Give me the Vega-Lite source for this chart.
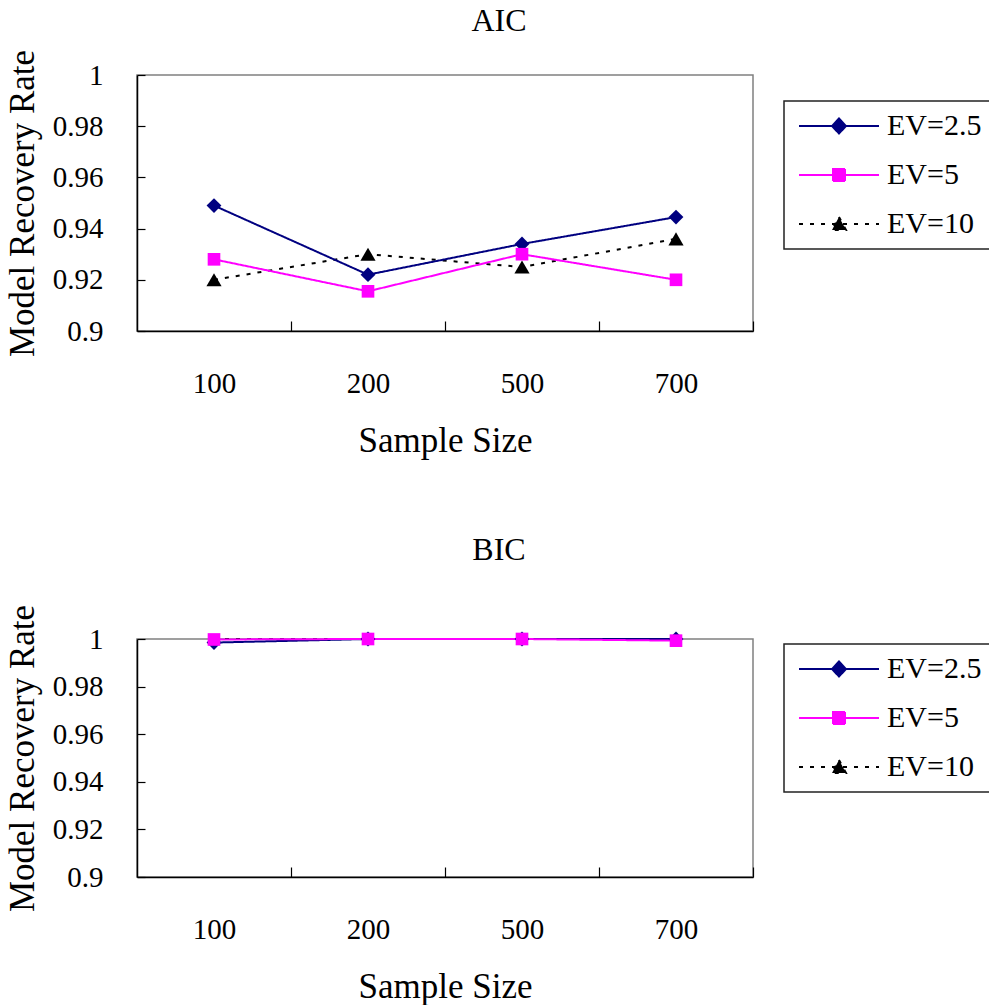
{
  "$schema": "https://vega.github.io/schema/vega-lite/v6.json",
  "background": "white",
  "padding": {"left": 4, "top": 4, "right": 0, "bottom": 0},
  "spacing": 74,
  "datasets": {
    "rates": [
      {"panel": "AIC", "n": "100", "ev": "EV=10", "rate": 0.920},
      {"panel": "AIC", "n": "200", "ev": "EV=10", "rate": 0.930},
      {"panel": "AIC", "n": "500", "ev": "EV=10", "rate": 0.925},
      {"panel": "AIC", "n": "700", "ev": "EV=10", "rate": 0.936},
      {"panel": "AIC", "n": "100", "ev": "EV=2.5", "rate": 0.949},
      {"panel": "AIC", "n": "200", "ev": "EV=2.5", "rate": 0.922},
      {"panel": "AIC", "n": "500", "ev": "EV=2.5", "rate": 0.934},
      {"panel": "AIC", "n": "700", "ev": "EV=2.5", "rate": 0.9445},
      {"panel": "AIC", "n": "100", "ev": "EV=5", "rate": 0.928},
      {"panel": "AIC", "n": "200", "ev": "EV=5", "rate": 0.9155},
      {"panel": "AIC", "n": "500", "ev": "EV=5", "rate": 0.930},
      {"panel": "AIC", "n": "700", "ev": "EV=5", "rate": 0.920},
      {"panel": "BIC", "n": "100", "ev": "EV=10", "rate": 1.0},
      {"panel": "BIC", "n": "200", "ev": "EV=10", "rate": 1.0},
      {"panel": "BIC", "n": "500", "ev": "EV=10", "rate": 1.0},
      {"panel": "BIC", "n": "700", "ev": "EV=10", "rate": 1.0},
      {"panel": "BIC", "n": "100", "ev": "EV=2.5", "rate": 0.9985},
      {"panel": "BIC", "n": "200", "ev": "EV=2.5", "rate": 1.0},
      {"panel": "BIC", "n": "500", "ev": "EV=2.5", "rate": 1.0},
      {"panel": "BIC", "n": "700", "ev": "EV=2.5", "rate": 1.0},
      {"panel": "BIC", "n": "100", "ev": "EV=5", "rate": 0.9998},
      {"panel": "BIC", "n": "200", "ev": "EV=5", "rate": 1.0},
      {"panel": "BIC", "n": "500", "ev": "EV=5", "rate": 1.0},
      {"panel": "BIC", "n": "700", "ev": "EV=5", "rate": 0.9993}
    ]
  },
  "vconcat": [
    {
      "title": {"text": "AIC", "offset": 11},
      "width": 616,
      "height": 256,
      "data": {"name": "rates"},
      "transform": [{"filter": "datum.panel === 'AIC'"}],
      "encoding": {
        "x": {"field": "n", "type": "ordinal", "title": "Sample Size", "sort": ["100", "200", "500", "700"],
              "scale": {"type": "point", "padding": 0.5}},
        "y": {"field": "rate", "type": "quantitative", "title": "Model Recovery Rate",
              "scale": {"domain": [0.9, 1], "nice": false, "zero": false}}
      },
      "layer": [
        {
          "mark": {"type": "line", "strokeWidth": 2},
          "encoding": {
            "color": {"field": "ev", "type": "nominal",
                      "scale": {"domain": ["EV=2.5", "EV=5", "EV=10"], "range": ["#000080", "#FF00FF", "#000000"]},
                      "legend": {
                        "legendX": 647, "legendY": 26,
                        "encode": {"symbols": {"update": {
                          "shape": {"signal": "datum.value === 'EV=2.5' ? 'M-1,0H7M3,-0.75L3.7,0L3,0.75L2.3,0Z' : datum.value === 'EV=5' ? 'M-1,0H7M2.4,-0.6H3.6V0.6H2.4Z' : 'M-1,0H7M3,-0.7L3.7,0.6L2.3,0.6Z'"},
                          "fill": {"signal": "datum.value === 'EV=2.5' ? '#000080' : datum.value === 'EV=5' ? '#FF00FF' : '#000000'"},
                          "strokeDash": {"signal": "datum.value === 'EV=10' ? [4, 6] : [1, 0]"},
                          "strokeWidth": {"signal": "datum.value === 'EV=10' ? 2.5 : 2"},
                          "size": {"value": 400},
                          "opacity": {"value": 1}
                        }}}
                      }},
            "strokeDash": {"field": "ev", "type": "nominal",
                           "scale": {"domain": ["EV=2.5", "EV=5", "EV=10"], "range": [[1, 0], [1, 0], [4, 7]]},
                           "legend": null},
            "strokeWidth": {"field": "ev", "type": "nominal",
                            "scale": {"domain": ["EV=2.5", "EV=5", "EV=10"], "range": [2, 2, 3]},
                            "legend": null}
          }
        },
        {
          "transform": [{"filter": "datum.ev === 'EV=10'"}],
          "mark": {"type": "point", "filled": true, "opacity": 1, "shape": "triangle-up", "size": 230, "color": "#000000"}
        },
        {
          "transform": [{"filter": "datum.ev === 'EV=2.5'"}],
          "mark": {"type": "point", "filled": true, "opacity": 1, "shape": "diamond", "size": 220, "color": "#000080"}
        },
        {
          "transform": [{"filter": "datum.ev === 'EV=5'"}],
          "mark": {"type": "point", "filled": true, "opacity": 1, "shape": "square", "size": 160, "color": "#FF00FF"}
        }
      ]
    },
    {
      "title": {"text": "BIC", "offset": 37},
      "width": 616,
      "height": 238,
      "data": {"name": "rates"},
      "transform": [{"filter": "datum.panel === 'BIC'"}],
      "encoding": {
        "x": {"field": "n", "type": "ordinal", "title": "Sample Size", "sort": ["100", "200", "500", "700"],
              "scale": {"type": "point", "padding": 0.5}},
        "y": {"field": "rate", "type": "quantitative", "title": "Model Recovery Rate",
              "scale": {"domain": [0.9, 1], "nice": false, "zero": false}}
      },
      "layer": [
        {
          "mark": {"type": "line", "strokeWidth": 2},
          "encoding": {
            "color": {"field": "ev", "type": "nominal",
                      "scale": {"domain": ["EV=2.5", "EV=5", "EV=10"], "range": ["#000080", "#FF00FF", "#000000"]},
                      "legend": {
                        "legendX": 647, "legendY": 5,
                        "encode": {"symbols": {"update": {
                          "shape": {"signal": "datum.value === 'EV=2.5' ? 'M-1,0H7M3,-0.75L3.7,0L3,0.75L2.3,0Z' : datum.value === 'EV=5' ? 'M-1,0H7M2.4,-0.6H3.6V0.6H2.4Z' : 'M-1,0H7M3,-0.7L3.7,0.6L2.3,0.6Z'"},
                          "fill": {"signal": "datum.value === 'EV=2.5' ? '#000080' : datum.value === 'EV=5' ? '#FF00FF' : '#000000'"},
                          "strokeDash": {"signal": "datum.value === 'EV=10' ? [4, 6] : [1, 0]"},
                          "strokeWidth": {"signal": "datum.value === 'EV=10' ? 2.5 : 2"},
                          "size": {"value": 400},
                          "opacity": {"value": 1}
                        }}}
                      }},
            "strokeDash": {"field": "ev", "type": "nominal",
                           "scale": {"domain": ["EV=2.5", "EV=5", "EV=10"], "range": [[1, 0], [1, 0], [4, 7]]},
                           "legend": null},
            "strokeWidth": {"field": "ev", "type": "nominal",
                            "scale": {"domain": ["EV=2.5", "EV=5", "EV=10"], "range": [2, 2, 3]},
                            "legend": null}
          }
        },
        {
          "transform": [{"filter": "datum.ev === 'EV=10'"}],
          "mark": {"type": "point", "filled": true, "opacity": 1, "shape": "triangle-up", "size": 150, "color": "#000000"}
        },
        {
          "transform": [{"filter": "datum.ev === 'EV=2.5'"}],
          "mark": {"type": "point", "filled": true, "opacity": 1, "shape": "diamond", "size": 220, "color": "#000080"}
        },
        {
          "transform": [{"filter": "datum.ev === 'EV=5'"}],
          "mark": {"type": "point", "filled": true, "opacity": 1, "shape": "square", "size": 160, "color": "#FF00FF"}
        }
      ]
    }
  ],
  "resolve": {"scale": {"color": "independent", "strokeDash": "independent", "strokeWidth": "independent"},
              "legend": {"color": "independent"}},
  "config": {
    "font": "Liberation Serif",
    "view": {"stroke": "#808080", "strokeWidth": 1.5},
    "title": {"font": "Liberation Serif", "fontSize": 32, "fontWeight": "normal", "color": "black", "anchor": "middle", "frame": "bounds"},
    "axis": {
      "grid": false,
      "domainColor": "black",
      "domainWidth": 1.5,
      "tickColor": "black",
      "tickWidth": 1.2,
      "labelFont": "Liberation Serif",
      "labelFontSize": 29,
      "labelColor": "black",
      "titleFont": "Liberation Serif",
      "titleFontSize": 35,
      "titleFontWeight": "normal",
      "titleColor": "black"
    },
    "axisX": {"labelAngle": 0, "tickSize": -10, "tickOffset": 77, "labelOffset": -77, "labelPadding": 48, "titlePadding": 25},
    "axisY": {"values": [0.9, 0.92, 0.94, 0.96, 0.98, 1], "format": "~g", "tickSize": -8, "labelPadding": 42, "titlePadding": 12},
    "legend": {
      "orient": "none",
      "title": null,
      "symbolSize": 400,
      "symbolStrokeWidth": 2,
      "labelFont": "Liberation Serif",
      "labelFontSize": 30,
      "labelColor": "black",
      "labelOffset": 63,
      "padding": 10,
      "rowPadding": 19,
      "strokeColor": "#222222",
      "fillColor": "white",
      "strokeWidth": 1.5
    }
  }
}
